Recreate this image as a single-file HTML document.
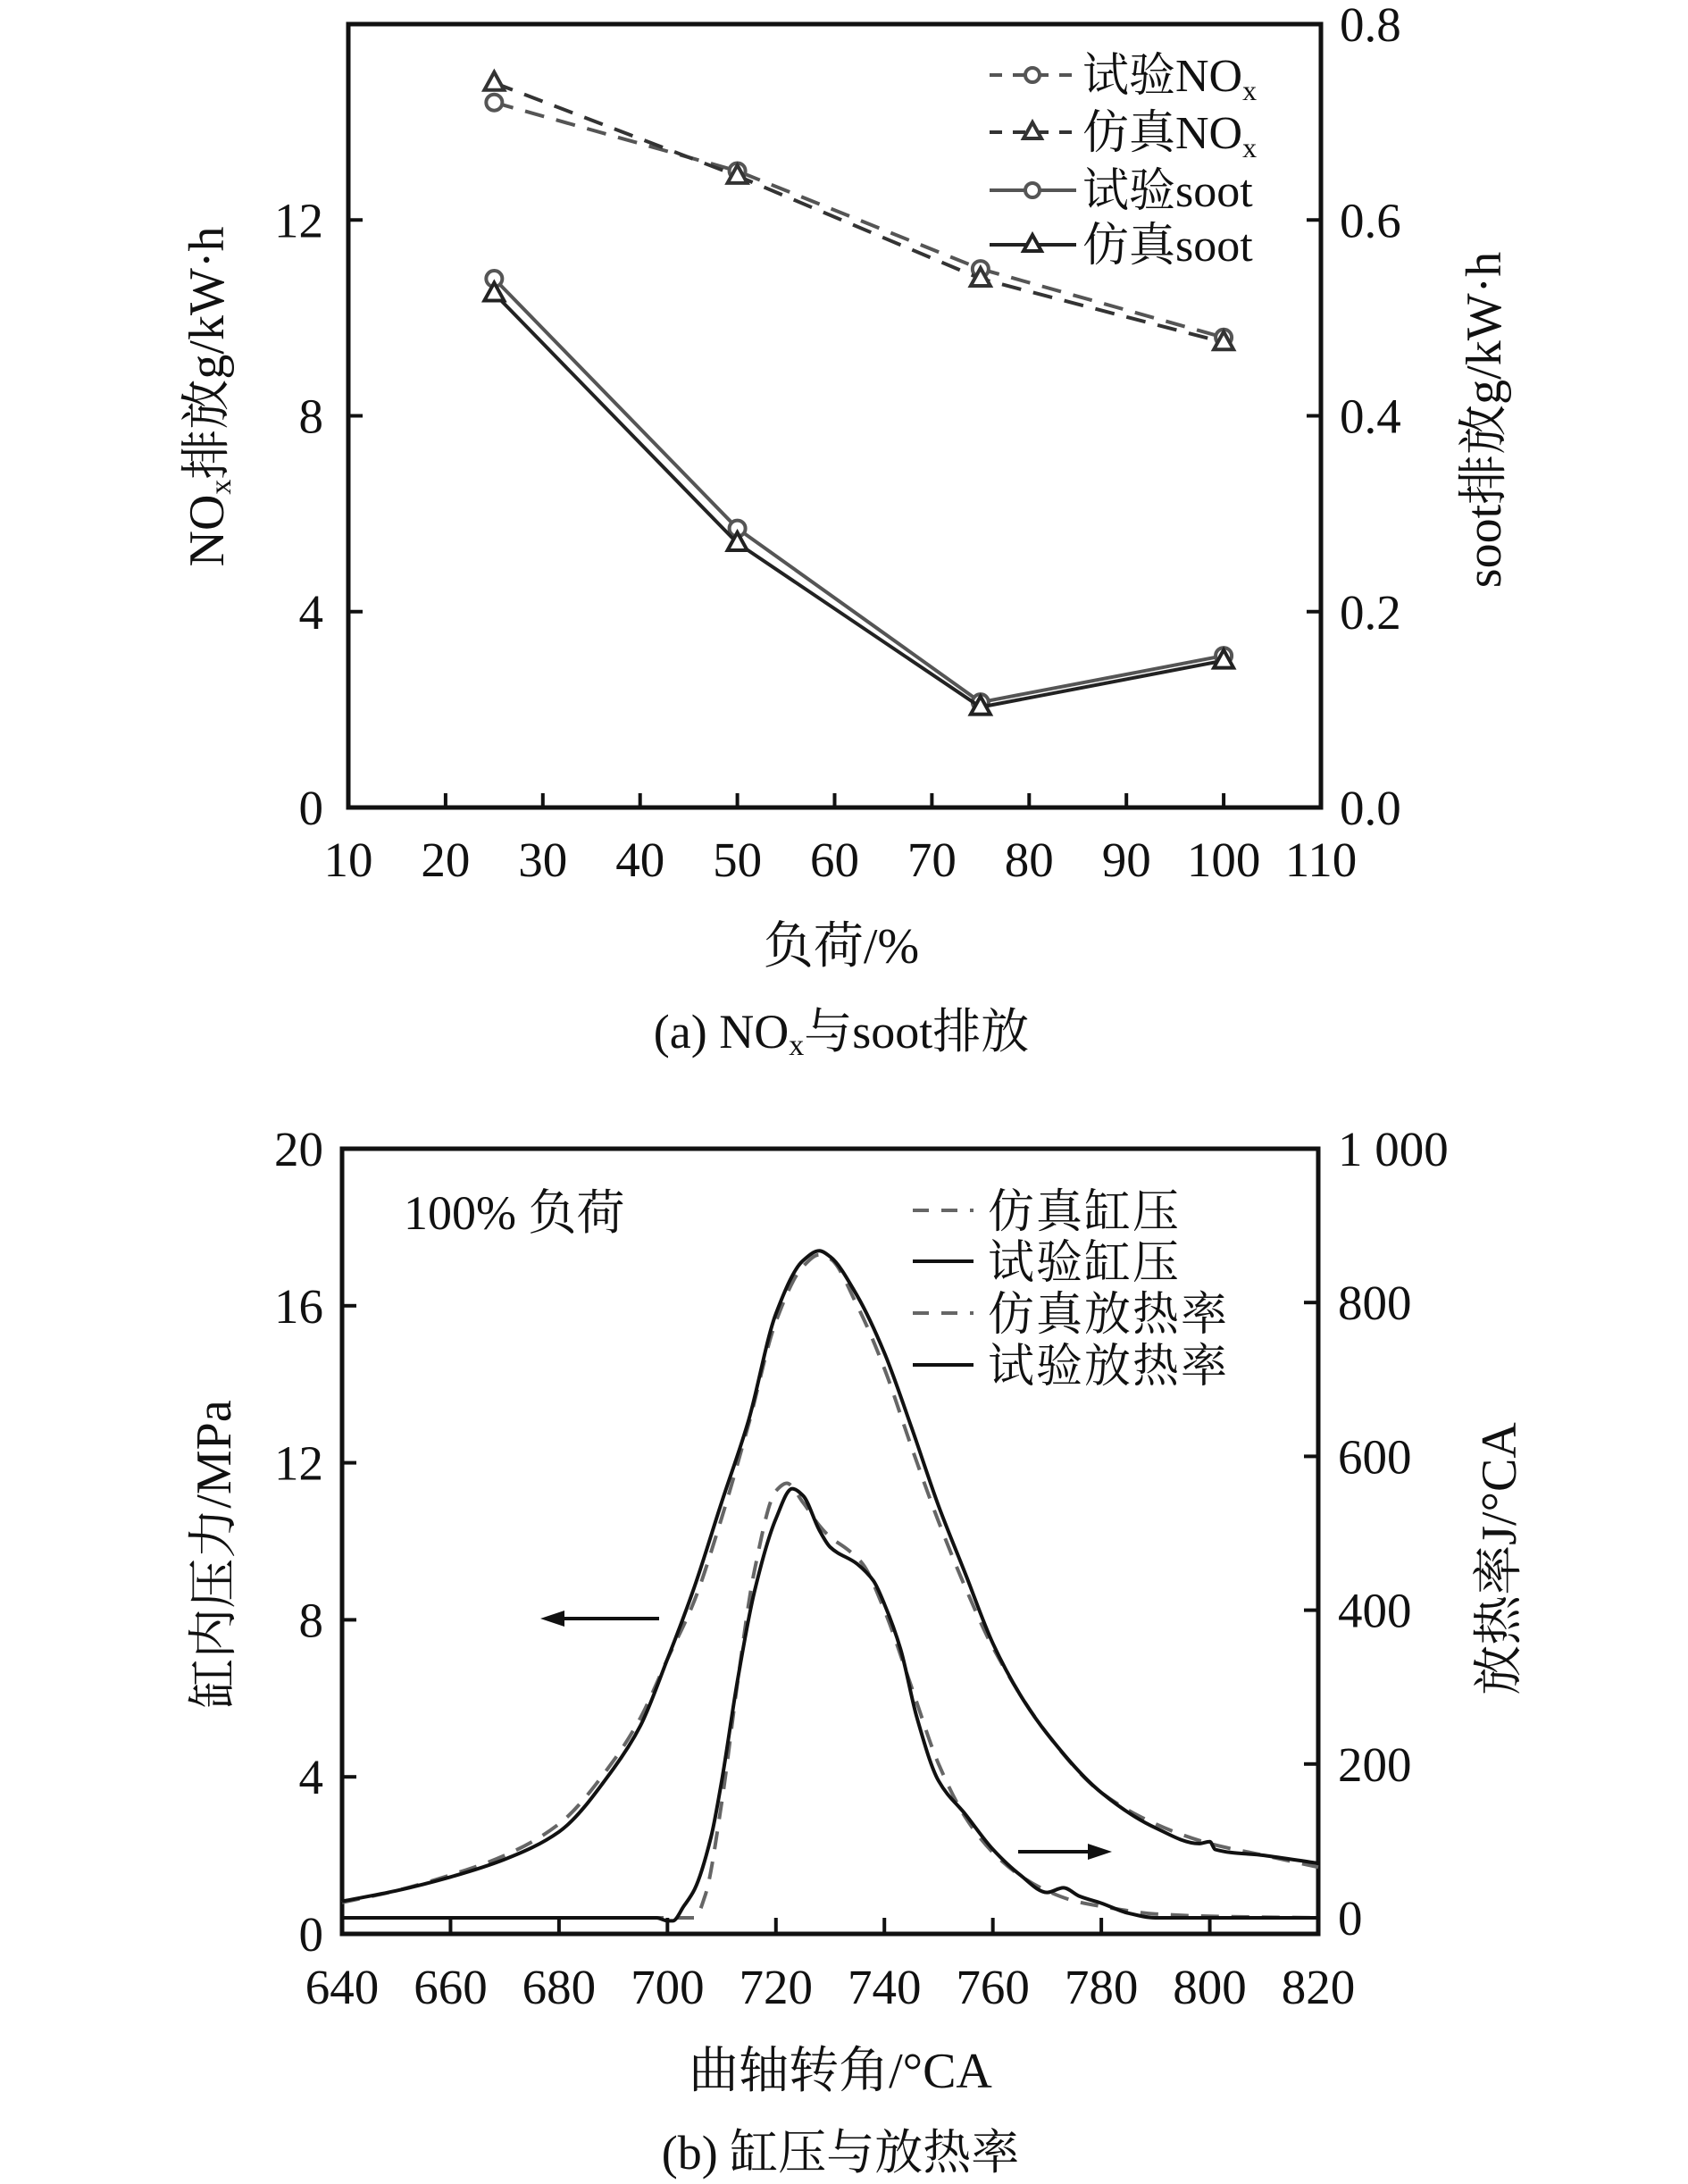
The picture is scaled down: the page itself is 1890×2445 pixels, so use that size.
<!DOCTYPE html>
<html><head><meta charset="utf-8"><style>
html,body{margin:0;padding:0;background:#fff}
svg{display:block}
text{font-family:"Liberation Serif","Noto Serif CJK SC","Noto Sans CJK SC",serif;fill:#111}
</style></head><body>
<svg id="fig" width="1890" height="2445" viewBox="0 0 1890 2445" xmlns="http://www.w3.org/2000/svg">
<g id="chartA"></g>
<g id="chartB"></g>
</svg>
<script>
// ---- Chart (a) data ----
const loads = [25, 50, 75, 100];
const noxExp = [14.4, 13.0, 11.0, 9.6];
const noxSim = [14.8, 12.9, 10.8, 9.5];
const sootExp = [0.54, 0.285, 0.1075, 0.155];
const sootSim = [0.525, 0.27, 0.1025, 0.15];
const xTicksA = [10, 20, 30, 40, 50, 60, 70, 80, 90, 100, 110];
const yTicksA = [0, 4, 8, 12];
const y2TicksA = [0.0, 0.2, 0.4, 0.6, 0.8];
const y2LabelsA = ["0.0", "0.2", "0.4", "0.6", "0.8"];

// ---- Chart (b) data ----
const caExp = [640,650,660,670,680,690,695,700,705,710,715,720,725,728,730,735,740,745,750,755,760,765,770,780,790,798,800,801,810,820];
const pExp = [0.83,1.1,1.45,1.9,2.6,4.2,5.3,7.0,8.85,11.0,13.1,15.8,17.15,17.4,17.25,16.25,14.8,12.9,10.9,9.15,7.4,6.1,5.1,3.6,2.7,2.3,2.35,2.15,2.0,1.8];
const caSim = [640,650,660,670,680,690,695,700,705,710,715,720,725,728,730,735,740,745,750,755,760,770,780,790,800,810,820];
const pSim = [0.8,1.1,1.5,2.0,2.8,4.4,5.5,7.0,8.5,10.6,13.0,15.6,17.0,17.3,17.2,16.0,14.4,12.4,10.5,8.8,7.3,5.1,3.6,2.8,2.3,2.0,1.7];
const caHrrExp = [640,698,700,701,703,705,708,710,713,716,720,723,725,728,730,735,738,740,743,746,750,755,760,765,770,773,776,780,785,790,820];
const hrrExp = [0,0,-4,-4,15,37,104,178,312,423,519,558,549,504,482,460,438,408,349,260,178,134,89,56,33,39,28,19,6,0,0];
const caHrrSim = [640,705,707,710,713,716,720,722,725,728,730,733,736,740,745,750,755,760,765,770,775,780,790,800,820];
const hrrSim = [0,0,30,150,310,450,555,565,540,510,495,480,460,400,300,200,130,85,55,35,22,15,5,2,0];
const xTicksB = [640,660,680,700,720,740,760,780,800,820];
const yTicksB = [0,4,8,12,16,20];
const y2TicksB = [0,200,400,600,800,1000];
const y2LabelsB = ["0","200","400","600","800","1 000"];

const NS = "http://www.w3.org/2000/svg";
function mk(parent, tag, attrs, txt){
  const e = document.createElementNS(NS, tag);
  for (const k in attrs) e.setAttribute(k, attrs[k]);
  if (txt !== undefined) e.textContent = txt;
  parent.appendChild(e);
  return e;
}
// monotone cubic (Fritsch-Carlson) path in screen coords
function monotone(pts){
  const n = pts.length;
  const dx = [], m = [], t = new Array(n);
  for (let i = 0; i < n-1; i++){ dx[i] = pts[i+1][0]-pts[i][0]; m[i] = (pts[i+1][1]-pts[i][1])/dx[i]; }
  t[0] = m[0]; t[n-1] = m[n-2];
  for (let i = 1; i < n-1; i++){
    if (m[i-1]*m[i] <= 0) t[i] = 0;
    else { const w1 = 2*dx[i]+dx[i-1], w2 = dx[i]+2*dx[i-1]; t[i] = (w1+w2)/(w1/m[i-1]+w2/m[i]); }
  }
  let d = "M" + pts[0][0].toFixed(1) + "," + pts[0][1].toFixed(1);
  for (let i = 0; i < n-1; i++){
    const h = dx[i]/3;
    d += " C" + (pts[i][0]+h).toFixed(1)+","+(pts[i][1]+t[i]*h).toFixed(1)+" "+(pts[i+1][0]-h).toFixed(1)+","+(pts[i+1][1]-t[i+1]*h).toFixed(1)+" "+pts[i+1][0].toFixed(1)+","+pts[i+1][1].toFixed(1);
  }
  return d;
}

// ================= Chart A =================
(function(){
  const g = document.getElementById('chartA');
  const L = 390, R = 1479, T = 27, B = 904;
  const sx = v => L + (v - 10) / 100 * (R - L);
  const sy = v => B - v / 16 * (B - T);
  const sy2 = v => B - v / 0.8 * (B - T);

  const frame = mk(g, 'rect', {x:L, y:T, width:R-L, height:B-T, fill:'none', stroke:'#111', 'stroke-width':5});
  
  

  xTicksA.forEach(v => {
    const t = mk(g, 'line', {x1:sx(v), x2:sx(v), y1:B, y2:B-16, stroke:'#111', 'stroke-width':4});
    
    
    const l = mk(g, 'text', {x:sx(v), y:981, 'font-size':55, 'text-anchor':'middle'}, String(v));
    
    
  });
  yTicksA.forEach(v => {
    const t = mk(g, 'line', {x1:L, x2:L+16, y1:sy(v), y2:sy(v), stroke:'#111', 'stroke-width':4});
    
    
    const l = mk(g, 'text', {x:362, y:sy(v)+19, 'font-size':55, 'text-anchor':'end'}, String(v));
    
    
  });
  y2TicksA.forEach((v,i) => {
    const t = mk(g, 'line', {x1:R, x2:R-16, y1:sy2(v), y2:sy2(v), stroke:'#111', 'stroke-width':4});
    
    
    const l = mk(g, 'text', {x:1500, y:sy2(v)+19, 'font-size':55}, y2LabelsA[i]);
    
    
  });

  function series(vals, scale, color, dash, marker, name){
    const pts = loads.map((x,i) => [sx(x), scale(vals[i])]);
    const pl = mk(g, 'polyline', {points: pts.map(p => p.join(',')).join(' '), fill:'none', stroke:color, 'stroke-width':4, 'stroke-dasharray':dash});
    
    
    pts.forEach(p => {
      let m;
      if (marker === 'c') m = mk(g, 'circle', {cx:p[0], cy:p[1], r:9, fill:'#fff', stroke:color, 'stroke-width':4});
      else m = mk(g, 'polygon', {points:`${p[0]},${p[1]-12} ${p[0]-11},${p[1]+8} ${p[0]+11},${p[1]+8}`, fill:'#fff', stroke:color, 'stroke-width':4});
      
      
    });
  }
  series(noxExp, sy, '#555', '22,14', 'c', 'nox-exp');
  series(noxSim, sy, '#333', '22,14', 't', 'nox-sim');
  series(sootExp, sy2, '#555', 'none', 'c', 'soot-exp');
  series(sootSim, sy2, '#222', 'none', 't', 'soot-sim');

  const leg = [
    {y:84, c:'#555', d:'14,12', m:'c', t:'试验NO', sub:'x'},
    {y:148, c:'#333', d:'14,12', m:'t', t:'仿真NO', sub:'x'},
    {y:213, c:'#555', d:'none', m:'c', t:'试验soot'},
    {y:274, c:'#222', d:'none', m:'t', t:'仿真soot'}
  ];
  leg.forEach(e => {
    const gg = mk(g, 'g', {});
    
    
    mk(gg, 'line', {x1:1108, x2:1205, y1:e.y, y2:e.y, stroke:e.c, 'stroke-width':4, 'stroke-dasharray':e.d});
    if (e.m === 'c') mk(gg, 'circle', {cx:1156, cy:e.y, r:8, fill:'#fff', stroke:e.c, 'stroke-width':4});
    else mk(gg, 'polygon', {points:`1156,${e.y-11} 1146,${e.y+7} 1166,${e.y+7}`, fill:'#fff', stroke:e.c, 'stroke-width':4});
    const tx = mk(gg, 'text', {x:1212, y:e.y+18, 'font-size':52}, e.t);
    if (e.sub){ mk(tx, 'tspan', {'font-size':32, dy:10}, e.sub); }
  });

  const yl = mk(g, 'text', {transform:'translate(250,444) rotate(-90)', 'font-size':56, 'text-anchor':'middle'});
  
  
  yl.innerHTML = 'NO<tspan font-size="34" dy="8">x</tspan><tspan dy="-8">排放g/kW·h</tspan>';
  const y2l = mk(g, 'text', {transform:'translate(1680,470) rotate(-90)', 'font-size':56, 'text-anchor':'middle'}, 'soot排放g/kW·h');
  
  
  const xl = mk(g, 'text', {x:942, y:1078, 'font-size':56, 'text-anchor':'middle'}, '负荷/%');
  
  
  const cap = mk(g, 'text', {x:942, y:1173, 'font-size':54, 'text-anchor':'middle'});
  
  
  cap.innerHTML = '(a) NO<tspan font-size="34" dy="8">x</tspan><tspan dy="-8">与soot排放</tspan>';
})();

// ================= Chart B =================
(function(){
  const g = document.getElementById('chartB');
  const L = 383, R = 1476, T = 1286, B = 2165, B2 = 2147;
  const sx = v => L + (v - 640) / 180 * (R - L);
  const sy = v => B - v / 20 * (B - T);
  const sy2 = v => B2 - v / 1000 * (B2 - T);

  const frame = mk(g, 'rect', {x:L, y:T, width:R-L, height:B-T, fill:'none', stroke:'#111', 'stroke-width':5});
  
  

  xTicksB.forEach(v => {
    const t = mk(g, 'line', {x1:sx(v), x2:sx(v), y1:B, y2:B-18, stroke:'#111', 'stroke-width':4});
    
    
    const l = mk(g, 'text', {x:sx(v), y:2243, 'font-size':55, 'text-anchor':'middle'}, String(v));
    
    
  });
  yTicksB.forEach(v => {
    const t = mk(g, 'line', {x1:L, x2:L+16, y1:sy(v), y2:sy(v), stroke:'#111', 'stroke-width':4});
    
    
    const l = mk(g, 'text', {x:362, y:sy(v)+19, 'font-size':55, 'text-anchor':'end'}, String(v));
    
    
  });
  y2TicksB.forEach((v,i) => {
    const t = mk(g, 'line', {x1:R, x2:R-16, y1:sy2(v), y2:sy2(v), stroke:'#111', 'stroke-width':4});
    
    
    const l = mk(g, 'text', {x:1498, y:sy2(v)+19, 'font-size':55}, y2LabelsB[i]);
    
    
  });

  function curve(xs, ys, scale, color, dash, w, name){
    const pts = xs.map((x,i) => [sx(x), scale(ys[i])]);
    const p = mk(g, 'path', {d:monotone(pts), fill:'none', stroke:color, 'stroke-width':w, 'stroke-dasharray':dash});
    
    
  }
  curve(caSim, pSim, sy, '#666', '20,14', 4, 'sim-pressure-line');
  curve(caExp, pExp, sy, '#111', 'none', 4, 'exp-pressure-line');
  curve(caHrrSim, hrrSim, sy2, '#666', '20,14', 4, 'sim-hrr-line');
  curve(caHrrExp, hrrExp, sy2, '#111', 'none', 4, 'exp-hrr-line');

  const note = mk(g, 'text', {x:452, y:1376, 'font-size':54}, '100% 负荷');
  
  

  const leg = [
    {y:1355, c:'#666', d:'18,14', t:'仿真缸压'},
    {y:1412, c:'#111', d:'none', t:'试验缸压'},
    {y:1470, c:'#666', d:'18,14', t:'仿真放热率'},
    {y:1528, c:'#111', d:'none', t:'试验放热率'}
  ];
  leg.forEach(e => {
    const gg = mk(g, 'g', {});
    
    
    mk(gg, 'line', {x1:1022, x2:1090, y1:e.y, y2:e.y, stroke:e.c, 'stroke-width':4, 'stroke-dasharray':e.d});
    mk(gg, 'text', {x:1106, y:e.y+19, 'font-size':52, 'letter-spacing':2}, e.t);
  });

  const a1 = mk(g, 'g', {});
  
  
  mk(a1, 'line', {x1:738, x2:625, y1:1812, y2:1812, stroke:'#111', 'stroke-width':4});
  mk(a1, 'polygon', {points:'605,1812 632,1803 632,1821', fill:'#111'});
  const a2 = mk(g, 'g', {});
  
  
  mk(a2, 'line', {x1:1140, x2:1225, y1:2073, y2:2073, stroke:'#111', 'stroke-width':4});
  mk(a2, 'polygon', {points:'1245,2073 1218,2064 1218,2082', fill:'#111'});

  const yl = mk(g, 'text', {transform:'translate(258,1740) rotate(-90)', 'font-size':56, 'text-anchor':'middle'}, '缸内压力/MPa');
  
  
  const y2l = mk(g, 'text', {transform:'translate(1697,1745) rotate(-90)', 'font-size':56, 'text-anchor':'middle'}, '放热率J/°CA');
  
  
  const xl = mk(g, 'text', {x:941, y:2337, 'font-size':56, 'text-anchor':'middle'}, '曲轴转角/°CA');
  
  
  const cap = mk(g, 'text', {x:941, y:2428, 'font-size':54, 'text-anchor':'middle'}, '(b) 缸压与放热率');
  
  
})();
</script>
</body></html>
